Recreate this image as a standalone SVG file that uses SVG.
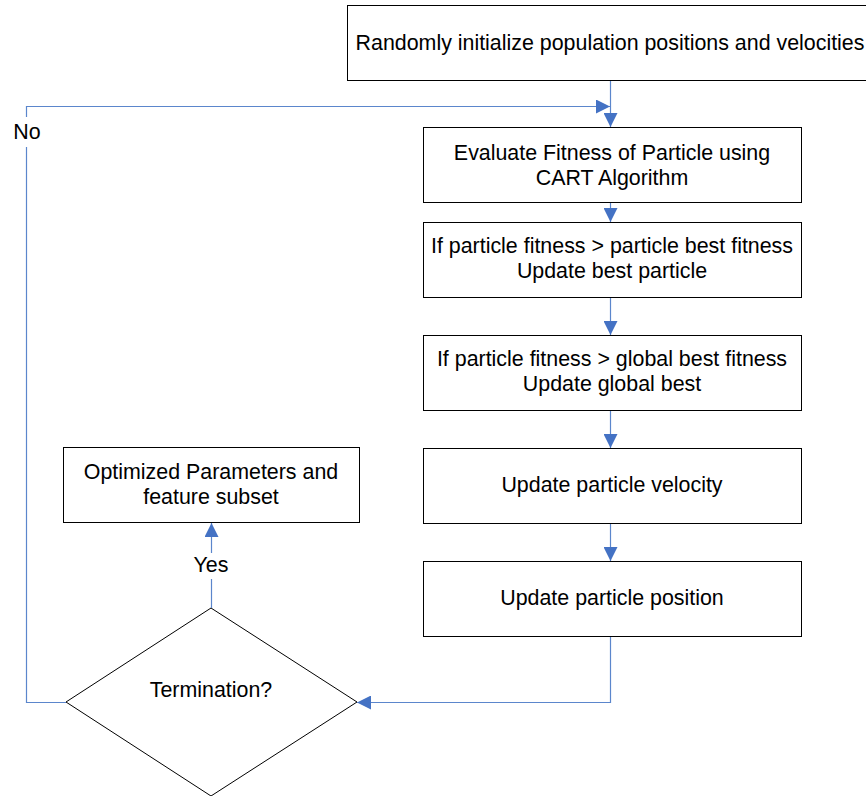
<svg xmlns="http://www.w3.org/2000/svg" width="866" height="796" viewBox="0 0 866 796">
<defs>
<style>
.box{fill:#fff;stroke:#000;stroke-width:1}
.t{font-family:"Liberation Sans",Arial,sans-serif;font-size:21.4px;fill:#000;text-anchor:middle}
.c{fill:none;stroke:#5B86CC;stroke-width:1.2}
.lbl{font-family:"Liberation Sans",Arial,sans-serif;font-size:21.4px;fill:#000;text-anchor:middle}
</style>
<marker id="ah" markerWidth="14" markerHeight="14" refX="14" refY="7" orient="auto" markerUnits="userSpaceOnUse">
<path d="M0,0 L14,7 L0,14 Z" fill="#4472C4"/>
</marker>
</defs>
<rect width="866" height="796" fill="#fff"/>
<g id="init">
<rect class="box" x="347.5" y="5.5" width="530" height="75"/>
<text class="t" x="610" y="50">Randomly initialize population positions and velocities</text>
</g>
<g id="evaluate">
<rect class="box" x="423.5" y="127.5" width="378" height="75"/>
<text class="t" x="612" y="160">Evaluate Fitness of Particle using</text>
<text class="t" x="612" y="185">CART Algorithm</text>
</g>
<g id="pbest">
<rect class="box" x="423.5" y="222.5" width="378" height="75"/>
<text class="t" x="612" y="253">If particle fitness &gt; particle best fitness</text>
<text class="t" x="612" y="278">Update best particle</text>
</g>
<g id="gbest">
<rect class="box" x="423.5" y="335.5" width="378" height="75"/>
<text class="t" x="612" y="366">If particle fitness &gt; global best fitness</text>
<text class="t" x="612" y="391">Update global best</text>
</g>
<g id="velocity">
<rect class="box" x="423.5" y="448.5" width="378" height="75"/>
<text class="t" x="612" y="492">Update particle velocity</text>
</g>
<g id="position">
<rect class="box" x="423.5" y="561.5" width="378" height="75"/>
<text class="t" x="612" y="605">Update particle position</text>
</g>
<g id="result">
<rect class="box" x="63.5" y="447.5" width="296" height="75"/>
<text class="t" x="211" y="479">Optimized Parameters and</text>
<text class="t" x="211" y="504">feature subset</text>
</g>
<g id="termination">
<polygon class="box" points="211,608 357,702 211,796 66,702"/>
<text class="t" x="211" y="697">Termination?</text>
</g>
<g id="connectors">
<path class="c" d="M610.5,81 V127" marker-end="url(#ah)"/>
<path class="c" d="M610.5,203 V222" marker-end="url(#ah)"/>
<path class="c" d="M610.5,298 V335" marker-end="url(#ah)"/>
<path class="c" d="M610.5,411 V448" marker-end="url(#ah)"/>
<path class="c" d="M610.5,524 V561" marker-end="url(#ah)"/>
<path class="c" d="M610.5,637 V702.5 H357" marker-end="url(#ah)"/>
<path class="c" d="M66,702.5 H26.5 V147"/>
<path class="c" d="M26.5,117 V106.5 H610" marker-end="url(#ah)"/>
<path class="c" d="M211.5,608 V579"/>
<path class="c" d="M211.5,553 V523" marker-end="url(#ah)"/>
<text class="lbl" x="27" y="139">No</text>
<text class="lbl" x="211" y="572">Yes</text>
</g>
</svg>
